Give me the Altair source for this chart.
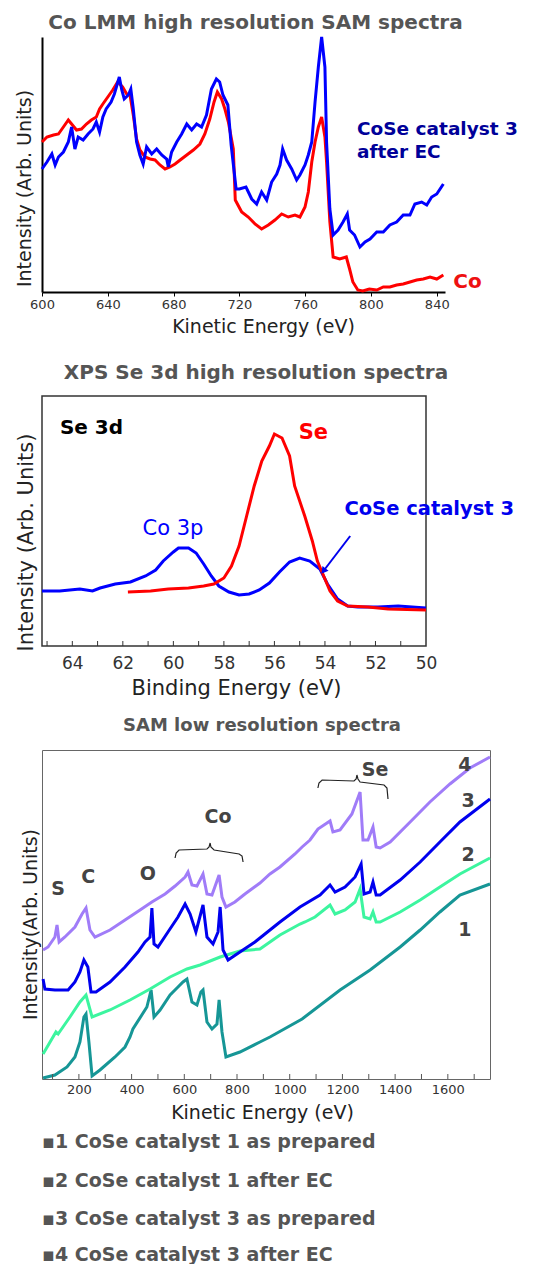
import altair as alt
import pandas as pd

FONT = "DejaVu Sans"

# ---------------- Panel 1: Co LMM high resolution SAM spectra ----------------
p1_blue_e = [600, 603, 606, 608, 610, 613, 616, 618, 620, 622, 625, 628, 631, 633, 635, 637, 639, 642, 644, 647,
             648.5, 650, 652.5, 654, 655.5, 657.5, 659.5, 661.5, 663.6, 666.7, 669.7, 672.8, 675.8, 676.8, 678.8,
             681.9, 684.9, 688, 691, 694, 697, 700, 703, 706, 708, 710, 713, 715, 718, 720, 724, 727.5, 730.5,
             733.5, 736.6, 739.6, 742.7, 744.7, 746.3, 748.7, 751.8, 754.8, 756.8, 759.9, 761.9, 764, 766, 768,
             770, 772, 773, 775, 777, 780, 783, 785.6, 787, 790, 793.3, 796.4, 799.4, 803.5, 807.5, 811.5, 815.6,
             819.6, 823.7, 826.7, 830.8, 833.9, 836.9, 840, 842, 844]
p1_blue_v = [123, 130, 138, 127, 135, 140, 150, 165, 143, 155, 152, 158, 163, 170, 160, 175, 183, 190, 198, 215,
             202, 193, 197, 203, 183, 150, 137, 128, 145, 138, 143, 137, 133, 125, 140,
             150, 158, 168, 162, 168, 165, 177, 203, 213, 210, 197, 187, 147, 103, 103, 105, 93, 88,
             100, 92, 110, 118, 127, 143, 132, 123, 112, 117, 127, 137, 150, 190, 225,
             255, 225, 150, 83, 57, 62, 70, 78, 62, 57, 45, 50, 53, 60, 60, 67, 70,
             77, 77, 88, 90, 87, 95, 98, 103, 108]
p1_red_e = [600, 603, 607, 610, 613, 616, 618, 621, 624, 627, 630, 633, 635, 637, 640, 643, 646, 649, 651.5, 653.5,
            655.5, 657.5, 659.5, 662.6, 665.7, 668.7, 671.7, 674.8, 677.8, 680.9, 684, 688, 692, 696, 699, 702,
            704.6, 706.6, 709.2, 711.2, 713.3, 716.3, 717.5, 721.4, 725.4, 729.5, 733.5, 737.6, 741.6, 745.7,
            749.7, 753.8, 756.8, 759.9, 761.9, 764, 766, 768, 770, 772, 773, 775, 777, 781, 785, 787, 789, 792,
            795, 799, 803.5, 807.5, 811.5, 815.6, 819.6, 823.7, 827.8, 831.8, 835.9, 840, 844]
p1_red_v = [150, 155, 157, 158, 165, 172, 168, 162, 163, 168, 172, 175, 183, 188, 195, 202, 210, 205, 198, 197,
            177, 153, 142, 135, 133, 132, 127, 123, 125, 128, 132, 137, 142, 148, 158, 173,
            190, 200, 193, 183, 170, 143, 92, 80, 75, 68, 63, 67, 72, 78,
            75, 77, 75, 85, 100, 130, 150, 165, 175, 155, 130, 70, 35, 33, 35, 23, 10, 2,
            1, 3, 2, 5, 5, 7, 8, 10, 12, 13, 15, 13, 17]
p1_ticks = list(range(600, 841, 20))
p1_text = ["CoSe catalyst 3", "after EC"]
p1_text_e = [791.5, 791.5]
p1_text_v = [163, 140]

# ---------------- Panel 2: XPS Se 3d ----------------
p2_blue_e = [65.2, 64.5, 63.7, 63.2, 62.9, 62.3, 61.7, 61.1, 60.7, 60.4, 60.0, 59.8, 59.4, 59.1, 58.8, 58.5, 58.2,
             57.8, 57.4, 57.0, 56.6, 56.2, 55.8, 55.4, 55.0, 54.6, 54.2, 53.9, 53.5, 53.1, 52.7, 51.9, 51.1, 50.0]
p2_blue_v = [55, 55, 57, 55, 58, 62, 64, 70, 76, 85, 94, 98, 98, 93, 82, 70, 60,
             54, 51, 52, 56, 63, 74, 84, 88, 85, 77, 62, 47, 40, 39, 39, 40, 38]
p2_red_e = [61.8, 60.9, 60.2, 59.4, 58.8, 58.4, 58.0, 57.7, 57.4, 57.1, 56.8, 56.5, 56.2, 56.0, 55.7, 55.4, 55.2,
            54.8, 54.5, 54.3, 54.1, 53.8, 53.5, 53.1, 52.3, 51.5, 50.0]
p2_red_v = [54, 55, 57, 58, 60, 62, 68, 80, 100, 130, 160, 185, 200, 212, 208, 190, 160,
            130, 105, 85, 73, 55, 45, 40, 39, 37, 36]
p2_ticks = list(range(51, 66))
p2_arrow_e = [53.0, 54.06]
p2_arrow_v = [110, 75]

# ---------------- Panel 3: SAM low resolution spectra ----------------
p3_c4_e = [64, 83, 109, 117, 125, 147, 185, 212, 227, 242, 261, 318, 375, 432, 477, 527, 565, 603, 614, 629,
           648, 671, 686, 705, 732, 743, 758, 792, 830, 887, 925, 963, 1020, 1047, 1077, 1107, 1153, 1164, 1191,
           1236, 1267, 1278, 1297, 1316, 1328, 1343, 1381, 1457, 1532, 1608, 1684, 1760]
p3_c4_v = [129, 132, 142, 154, 137, 142, 152, 165, 171, 149, 142, 149, 159, 169, 177, 185, 193, 202, 207, 194,
           193, 205, 185, 184, 204, 182, 172, 177, 185, 196, 205, 212, 225, 232, 239, 250, 258, 247, 249,
           265, 287, 239, 239, 252, 232, 231, 237, 257, 277, 295, 311, 322]
p3_c3_e = [64, 71, 109, 159, 185, 204, 219, 234, 246, 265, 318, 375, 424, 451, 470, 477, 485, 500, 538, 576,
           603, 622, 644, 671, 686, 709, 728, 736, 747, 766, 811, 868, 887, 925, 963, 1039, 1115, 1153, 1172,
           1210, 1248, 1271, 1282, 1305, 1316, 1328, 1343, 1419, 1495, 1570, 1646, 1760]
p3_c3_v = [100, 90, 89, 89, 97, 107, 119, 112, 87, 87, 97, 112, 127, 137, 142, 171, 135, 132, 147, 162,
           175, 165, 147, 174, 142, 135, 147, 172, 129, 119, 127, 137, 141, 149, 157, 172, 184, 194, 187,
           192, 202, 215, 185, 187, 197, 184, 184, 199, 217, 237, 257, 280]
p3_c2_e = [64, 113, 121, 166, 204, 227, 250, 318, 394, 470, 546, 610, 660, 736, 811, 887, 925, 963, 1039, 1058,
           1096, 1153, 1172, 1210, 1248, 1267, 1282, 1305, 1316, 1328, 1343, 1419, 1495, 1570, 1646, 1760]
p3_c2_v = [25, 47, 45, 62, 77, 84, 62, 69, 79, 90, 102, 110, 114, 122, 128, 130, 137, 144, 155, 157,
           162, 174, 165, 169, 177, 190, 162, 160, 167, 157, 157, 167, 179, 192, 205, 221]
p3_c1_e = [64, 109, 155, 185, 204, 219, 227, 238, 250, 280, 337, 375, 394, 405, 458, 474, 485, 508, 546, 576,
           595, 610, 629, 648, 663, 671, 686, 705, 724, 732, 743, 758, 811, 887, 925, 1047, 1191, 1305, 1419,
           1495, 1570, 1646, 1760]
p3_c1_v = [1, 4, 12, 22, 37, 62, 65, 37, 3, 9, 22, 32, 42, 50, 72, 89, 62, 69, 84, 92,
           97, 100, 77, 74, 87, 89, 57, 50, 55, 79, 47, 22, 27, 37, 42, 60, 89, 109, 132,
           149, 167, 184, 195]
p3_ticks = list(range(100, 1701, 100))
p3_peak_labels = ["S", "C", "O", "Co", "Se", "4", "3", "2", "1"]
p3_peak_e = [121, 235, 462, 728, 1324, 1665, 1677, 1677, 1665]
p3_peak_v = [190, 202, 205, 262, 309, 314, 278, 224, 149]
brace_co_e = [565, 569, 580, 686, 694, 698, 701, 713, 808, 819, 823]
brace_co_v = [221, 226, 229, 230, 232, 236, 232, 229, 225, 223, 217]
brace_se_e = [1107, 1111, 1123, 1244, 1252, 1255, 1259, 1267, 1358, 1369, 1373]
brace_se_v = [291, 296, 299, 298, 300, 304, 300, 297, 294, 291, 280]
legend_labels = ["\u25aa1 CoSe catalyst 1 as prepared", "\u25aa2 CoSe catalyst 1 after EC",
                 "\u25aa3 CoSe catalyst 3 as prepared", "\u25aa4 CoSe catalyst 3 after EC"]
legend_e = [60, 60, 60, 60]
legend_v = [-63, -102, -140, -176]


def sdf(e, v, name):
    return pd.DataFrame({"E": e, "v": v, "s": name, "o": list(range(len(e)))})


# ---------------- build panel 1 ----------------
d1 = pd.concat([sdf(p1_red_e, p1_red_v, "Co"), sdf(p1_blue_e, p1_blue_v, "CoSe catalyst 3 after EC")])
x1 = alt.X("E:Q", scale=alt.Scale(domain=[600, 845], nice=False, zero=False),
           axis=alt.Axis(values=p1_ticks, labelExpr="datum.value % 40 == 0 ? datum.label : ''",
                         title="Kinetic Energy (eV)", titleFontSize=19, titleFontWeight="normal", titleColor="#222",
                         titleX=221, titleY=34, titleBaseline="middle", titleAlign="center",
                         domainColor="black", domainWidth=2, tickColor="black", tickSize=4, labelFlush=False,
                         labelFontSize=13, labelColor="#333", labelPadding=2))
y1 = alt.Y("v:Q", scale=alt.Scale(domain=[0, 255], nice=False),
           axis=alt.Axis(title="Intensity (Arb. Units)", labels=False, ticks=False, domainColor="black",
                         domainWidth=2, titleFontSize=19, titleFontWeight="normal", titleColor="#222",
                         titleX=-18, titleY=151, titleAngle=270, titleAlign="center", titleBaseline="middle"))
lines1 = alt.Chart(d1).mark_line(strokeWidth=3).encode(
    x=x1, y=y1, order="o:Q",
    color=alt.Color("s:N", scale=alt.Scale(domain=["Co", "CoSe catalyst 3 after EC"], range=["#FF0000", "#0000FF"]),
                    legend=None))
t1 = alt.Chart(pd.DataFrame({"E": p1_text_e, "v": p1_text_v, "t": p1_text})).mark_text(
    align="left", baseline="middle", fontSize=18.5, fontWeight="bold", color="#000099").encode(
    x="E:Q", y="v:Q", text="t:N")
t1b = alt.Chart(pd.DataFrame({"E": [850], "v": [10], "t": ["Co"]})).mark_text(
    align="left", baseline="middle", fontSize=20, fontWeight="bold", color="#EE1111").encode(
    x="E:Q", y="v:Q", text="t:N")
panel1 = alt.layer(lines1, t1, t1b).properties(
    width=403, height=255,
    title=alt.TitleParams("Co LMM high resolution SAM spectra", fontSize=20, fontWeight="bold", color="#555",
                          anchor="middle", frame="group", dx=12, dy=25, offset=7, baseline="alphabetic"))

# ---------------- build panel 2 ----------------
d2 = pd.concat([sdf(p2_blue_e, p2_blue_v, "CoSe catalyst 3"), sdf(p2_red_e, p2_red_v, "Se")])
x2 = alt.X("E:Q", scale=alt.Scale(domain=[65.2, 50], nice=False, zero=False),
           axis=alt.Axis(values=list(range(50, 65, 2)), ticks=False, domain=False, labelFlush=False,
                         title="Binding Energy (eV)", titleFontSize=21, titleFontWeight="normal", titleColor="#222",
                         titleX=194, titleY=42, titleBaseline="middle", titleAlign="center",
                         labelFontSize=17, labelColor="#333", labelPadding=9))
y2 = alt.Y("v:Q", scale=alt.Scale(domain=[0, 250], nice=False),
           axis=alt.Axis(title="Intensity (Arb. Units)", labels=False, ticks=False, domain=False,
                         titleFontSize=21, titleFontWeight="normal", titleColor="#222",
                         titleX=-16, titleY=146, titleAngle=270, titleAlign="center", titleBaseline="middle"))
lines2 = alt.Chart(d2).mark_line(strokeWidth=3).encode(
    x=x2, y=y2, order="o:Q",
    color=alt.Color("s:N", scale=alt.Scale(domain=["Se", "CoSe catalyst 3"], range=["#FF0000", "#0000FF"]),
                    legend=None))
ticks2 = alt.Chart(pd.DataFrame({"E": p2_ticks, "a": [0] * len(p2_ticks), "b": [5] * len(p2_ticks)})).mark_rule(
    color="#333", strokeWidth=1).encode(x="E:Q", y="a:Q", y2="b:Q")
arrow_line = alt.Chart(pd.DataFrame({"E": p2_arrow_e, "v": p2_arrow_v})).mark_line(
    color="#0000EE", strokeWidth=2).encode(x="E:Q", y="v:Q")
arrow_head = alt.Chart(pd.DataFrame({"E": [p2_arrow_e[1]], "v": [p2_arrow_v[1]]})).mark_point(
    shape="triangle-up", filled=True, size=60, angle=218, color="#0000EE", opacity=1).encode(x="E:Q", y="v:Q")
t2a = alt.Chart(pd.DataFrame({"E": [64.49], "v": [218.5], "t": ["Se 3d"]})).mark_text(
    align="left", baseline="middle", fontSize=20, fontWeight="bold", color="black").encode(x="E:Q", y="v:Q", text="t:N")
t2b = alt.Chart(pd.DataFrame({"E": [61.22], "v": [117], "t": ["Co 3p"]})).mark_text(
    align="left", baseline="middle", fontSize=21, color="#0000FF").encode(x="E:Q", y="v:Q", text="t:N")
t2c = alt.Chart(pd.DataFrame({"E": [55.04], "v": [213], "t": ["Se"]})).mark_text(
    align="left", baseline="middle", fontSize=21, fontWeight="bold", color="#FF0000").encode(x="E:Q", y="v:Q", text="t:N")
t2d = alt.Chart(pd.DataFrame({"E": [53.23], "v": [137], "t": ["CoSe catalyst 3"]})).mark_text(
    align="left", baseline="middle", fontSize=19.5, fontWeight="bold", color="#0000EE").encode(x="E:Q", y="v:Q", text="t:N")
panel2 = alt.layer(lines2, ticks2, arrow_line, arrow_head, t2a, t2b, t2c, t2d).properties(
    width=384, height=250, view=alt.ViewBackground(stroke="#333", strokeWidth=1.5),
    title=alt.TitleParams("XPS Se 3d high resolution spectra", fontSize=20, fontWeight="bold", color="#555",
                          anchor="middle", frame="group", dx=22, dy=15, offset=12, baseline="alphabetic"))

# ---------------- build panel 3 ----------------
d3 = pd.concat([sdf(p3_c1_e, p3_c1_v, "1"), sdf(p3_c2_e, p3_c2_v, "2"),
                sdf(p3_c3_e, p3_c3_v, "3"), sdf(p3_c4_e, p3_c4_v, "4")])
x3 = alt.X("E:Q", scale=alt.Scale(domain=[60, 1760], nice=False, zero=False),
           axis=alt.Axis(values=list(range(200, 1601, 200)), format="d", ticks=False, domain=False, labelFlush=False,
                         title="Kinetic Energy (eV)", titleFontSize=19, titleFontWeight="normal", titleColor="#222",
                         titleX=220, titleY=33, titleBaseline="middle", titleAlign="center",
                         labelFontSize=13, labelColor="#333", labelPadding=4))
y3 = alt.Y("v:Q", scale=alt.Scale(domain=[0, 329], nice=False),
           axis=alt.Axis(title="Intensity(Arb. Units)", labels=False, ticks=False, domain=False,
                         titleFontSize=19, titleFontWeight="normal", titleColor="#222",
                         titleX=-12, titleY=174, titleAngle=270, titleAlign="center", titleBaseline="middle"))
lines3 = alt.Chart(d3).mark_line(strokeWidth=3).encode(
    x=x3, y=y3, order="o:Q",
    color=alt.Color("s:N", scale=alt.Scale(domain=["1", "2", "3", "4"],
                                           range=["#169696", "#3CF59F", "#0000EE", "#A07CF8"]), legend=None))
ticks3 = alt.Chart(pd.DataFrame({"E": p3_ticks, "a": [0] * len(p3_ticks), "b": [5] * len(p3_ticks)})).mark_rule(
    color="#555", strokeWidth=1).encode(x="E:Q", y="a:Q", y2="b:Q")
braces = alt.Chart(pd.concat([sdf(brace_co_e, brace_co_v, "Co"), sdf(brace_se_e, brace_se_v, "Se")])).mark_line(
    color="#222", strokeWidth=1.2).encode(x="E:Q", y="v:Q", detail="s:N", order="o:Q")
t3 = alt.Chart(pd.DataFrame({"E": p3_peak_e, "v": p3_peak_v, "t": p3_peak_labels})).mark_text(
    align="center", baseline="middle", fontSize=19, fontWeight="bold", color="#444").encode(x="E:Q", y="v:Q", text="t:N")
legend3 = alt.Chart(pd.DataFrame({"E": legend_e, "v": legend_v, "t": legend_labels})).mark_text(
    align="left", baseline="middle", fontSize=19, fontWeight="bold", color="#555").encode(
    x="E:Q", y="v:Q", text="t:N")
panel3 = alt.layer(lines3, ticks3, braces, t3, legend3).properties(
    width=448, height=329, view=alt.ViewBackground(stroke="#666", strokeWidth=1),
    title=alt.TitleParams("SAM low resolution spectra", fontSize=18, fontWeight="bold", color="#555",
                          anchor="middle", frame="group", dx=-4, dy=15, offset=16, baseline="alphabetic"))

chart = alt.vconcat(panel1, panel2, panel3, spacing=104, bounds="flush").resolve_scale(
    x="independent", y="independent", color="independent"
).properties(
    padding={"left": 6, "top": 5, "right": 0, "bottom": 0}
).configure_view(strokeWidth=0).configure_axis(
    grid=False, labelFont=FONT, titleFont=FONT
).configure_title(font=FONT).configure_text(font=FONT)

chart.save("out.html", embed_options={"renderer": "svg", "actions": False})
